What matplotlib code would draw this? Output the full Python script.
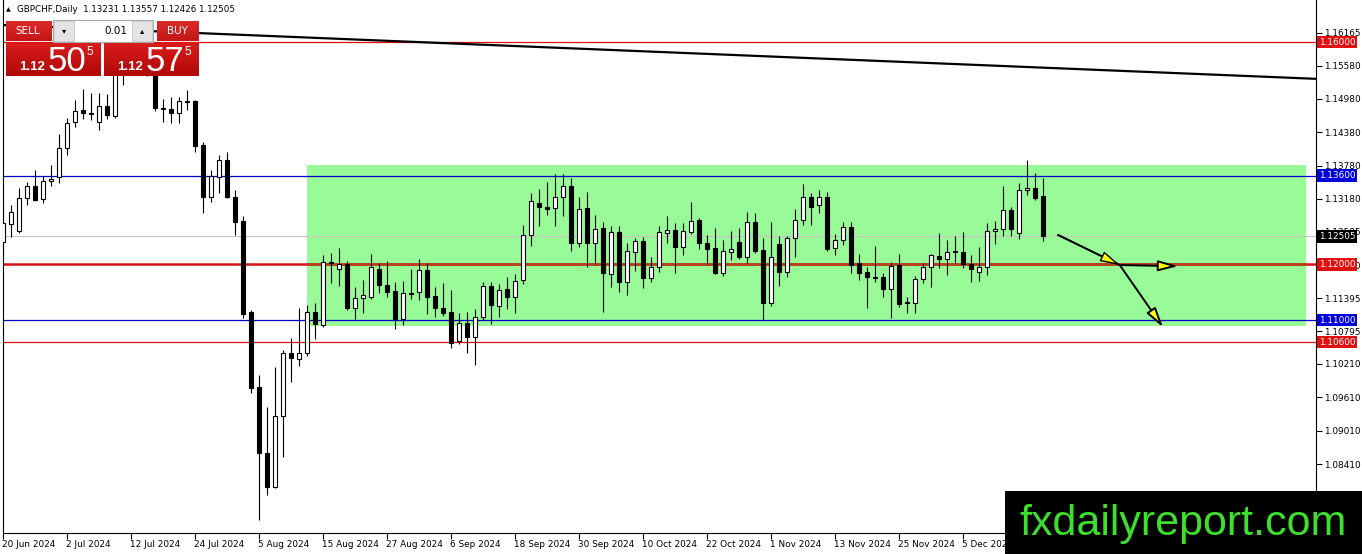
import matplotlib
matplotlib.use('Agg')
import matplotlib.pyplot as plt
import matplotlib.transforms as mtransforms
from matplotlib.patches import Rectangle
from matplotlib.colors import LinearSegmentedColormap
from matplotlib import font_manager
import numpy as np
import pandas as pd

# GBPCHF daily candles, 20 Jun 2024 .. 19 Dec 2024
opens = [1.1240, 1.1273, 1.1260, 1.1320, 1.1341, 1.1318, 1.1350, 1.1357, 1.1410, 1.1456,
         1.1478, 1.1473, 1.1456, 1.1485, 1.1467, 1.1546, 1.1575, 1.1590, 1.1572, 1.1550,
         1.1482, 1.1480, 1.1473, 1.1494, 1.1494, 1.1415, 1.1321, 1.1357, 1.1388, 1.1321,
         1.1278, 1.1114, 1.0979, 1.0861, 1.0799, 1.0927, 1.1041, 1.1030, 1.1041, 1.1114,
         1.1091, 1.1204, 1.1192, 1.1201, 1.1122, 1.1140, 1.1141, 1.1192, 1.1163, 1.1152,
         1.1102, 1.1149, 1.1150, 1.1190, 1.1143, 1.1122, 1.1114, 1.1062, 1.1095, 1.1069,
         1.1105, 1.1161, 1.1125, 1.1156, 1.1141, 1.1172, 1.1253, 1.1311, 1.1303, 1.1302,
         1.1321, 1.1341, 1.1239, 1.1302, 1.1239, 1.1266, 1.1183, 1.1258, 1.1168, 1.1222,
         1.1242, 1.1176, 1.1195, 1.1257, 1.1262, 1.1231, 1.1258, 1.1280, 1.1239, 1.1230,
         1.1185, 1.1222, 1.1240, 1.1213, 1.1276, 1.1226, 1.1131, 1.1237, 1.1186, 1.1248,
         1.1280, 1.1321, 1.1307, 1.1321, 1.1230, 1.1244, 1.1267, 1.1203, 1.1186, 1.1177,
         1.1177, 1.1156, 1.1199, 1.1132, 1.1131, 1.1174, 1.1195, 1.1215, 1.1210, 1.1224,
         1.1222, 1.1201, 1.1186, 1.1195, 1.1260, 1.1264, 1.1298, 1.1257, 1.1334, 1.1338,
         1.13231]
highs = [1.1312, 1.1307, 1.1338, 1.1348, 1.1370, 1.1359, 1.1379, 1.1435, 1.1464, 1.1496,
         1.1516, 1.1509, 1.1509, 1.1507, 1.1568, 1.1595, 1.1600, 1.1604, 1.1586, 1.1559,
         1.1498, 1.1501, 1.1501, 1.1514, 1.1496, 1.1420, 1.1370, 1.1397, 1.1402, 1.1334,
         1.1287, 1.1118, 1.1001, 1.0943, 1.1015, 1.1046, 1.1068, 1.1122, 1.1127, 1.1131,
         1.1217, 1.1221, 1.1230, 1.1206, 1.1159, 1.1172, 1.1219, 1.1203, 1.1206, 1.1168,
         1.1170, 1.1192, 1.1210, 1.1203, 1.1159, 1.1167, 1.1154, 1.1113, 1.1114, 1.1120,
         1.1168, 1.1168, 1.1165, 1.1177, 1.1183, 1.1271, 1.1329, 1.1336, 1.1348, 1.1363,
         1.1363, 1.1356, 1.1321, 1.1330, 1.1289, 1.1276, 1.1269, 1.1269, 1.1239, 1.1248,
         1.1249, 1.1213, 1.1269, 1.1287, 1.1275, 1.1275, 1.1312, 1.1284, 1.1253, 1.1266,
         1.1244, 1.1260, 1.1266, 1.1294, 1.1293, 1.1248, 1.1276, 1.1251, 1.1251, 1.1300,
         1.1345, 1.1329, 1.1334, 1.1330, 1.1255, 1.1276, 1.1276, 1.1219, 1.1195, 1.1233,
         1.1185, 1.1204, 1.1219, 1.1141, 1.1179, 1.1203, 1.1219, 1.1257, 1.1244, 1.1251,
         1.1258, 1.1217, 1.1231, 1.1275, 1.1278, 1.1341, 1.1303, 1.1347, 1.1388, 1.1365,
         1.13557]
lows = [1.1217, 1.1249, 1.1257, 1.1307, 1.1314, 1.1311, 1.1341, 1.1347, 1.1397, 1.1447,
        1.1462, 1.1460, 1.1442, 1.1462, 1.1464, 1.1523, 1.1557, 1.1564, 1.1539, 1.1476,
        1.1456, 1.1455, 1.1455, 1.1478, 1.1402, 1.1293, 1.1312, 1.1329, 1.1320, 1.1253,
        1.1104, 1.0969, 1.0740, 1.0785, 1.0798, 1.0853, 1.0988, 1.1017, 1.1035, 1.1066,
        1.1087, 1.1167, 1.1161, 1.1118, 1.1102, 1.1113, 1.1138, 1.1149, 1.1141, 1.1084,
        1.1091, 1.1138, 1.1136, 1.1111, 1.1105, 1.1107, 1.1050, 1.1057, 1.1041, 1.1019,
        1.1100, 1.1093, 1.1105, 1.1120, 1.1113, 1.1165, 1.1233, 1.1269, 1.1289, 1.1269,
        1.1287, 1.1224, 1.1231, 1.1195, 1.1201, 1.1114, 1.1159, 1.1150, 1.1145, 1.1188,
        1.1158, 1.1168, 1.1186, 1.1239, 1.1185, 1.1217, 1.1255, 1.1228, 1.1201, 1.1183,
        1.1179, 1.1208, 1.1210, 1.1203, 1.1221, 1.1100, 1.1125, 1.1161, 1.1177, 1.1213,
        1.1271, 1.1271, 1.1293, 1.1224, 1.1217, 1.1235, 1.1185, 1.1172, 1.1122, 1.1168,
        1.1141, 1.1104, 1.1123, 1.1113, 1.1113, 1.1167, 1.1159, 1.1194, 1.1181, 1.1203,
        1.1194, 1.1168, 1.1170, 1.1181, 1.1237, 1.1251, 1.1251, 1.1246, 1.1325, 1.1316,
        1.12426]
closes = [1.1275, 1.1294, 1.1320, 1.1341, 1.1316, 1.1350, 1.1354, 1.1410, 1.1455, 1.1476,
          1.1473, 1.1471, 1.1485, 1.1469, 1.1550, 1.1577, 1.1590, 1.1572, 1.1550, 1.1482,
          1.1480, 1.1473, 1.1494, 1.1492, 1.1413, 1.1321, 1.1359, 1.1388, 1.1321, 1.1276,
          1.1111, 1.0978, 1.0861, 1.0799, 1.0927, 1.1041, 1.1032, 1.1041, 1.1114, 1.1093,
          1.1204, 1.1203, 1.1201, 1.1122, 1.1140, 1.1145, 1.1195, 1.1163, 1.1150, 1.1102,
          1.1149, 1.1147, 1.1190, 1.1141, 1.1122, 1.1113, 1.1059, 1.1095, 1.1069, 1.1105,
          1.1161, 1.1127, 1.1154, 1.1141, 1.1170, 1.1253, 1.1314, 1.1303, 1.1300, 1.1321,
          1.1341, 1.1239, 1.1300, 1.1239, 1.1264, 1.1185, 1.1258, 1.1168, 1.1224, 1.1242,
          1.1176, 1.1195, 1.1258, 1.1262, 1.1231, 1.1260, 1.1278, 1.1239, 1.1228, 1.1185,
          1.1224, 1.1228, 1.1213, 1.1276, 1.1224, 1.1131, 1.1213, 1.1186, 1.1248, 1.1280,
          1.1321, 1.1303, 1.1321, 1.1228, 1.1244, 1.1267, 1.1199, 1.1185, 1.1177, 1.1176,
          1.1156, 1.1197, 1.1129, 1.1131, 1.1174, 1.1195, 1.1217, 1.1210, 1.1222, 1.1222,
          1.1201, 1.1192, 1.1195, 1.1260, 1.1264, 1.1298, 1.1264, 1.1334, 1.1338, 1.1320,
          1.12505]

date_labels = ['20 Jun 2024', '2 Jul 2024', '12 Jul 2024', '24 Jul 2024', '5 Aug 2024',
               '15 Aug 2024', '27 Aug 2024', '6 Sep 2024', '18 Sep 2024', '30 Sep 2024',
               '10 Oct 2024', '22 Oct 2024', '1 Nov 2024', '13 Nov 2024', '25 Nov 2024',
               '5 Dec 2024']
price_ticks = [1.16165, 1.15580, 1.14980, 1.14380, 1.13780, 1.13180, 1.12585, 1.11990,
               1.11395, 1.10795, 1.10210, 1.09610, 1.09010, 1.08410]

level_prices = [1.16000, 1.13600, 1.12000, 1.11000, 1.10600]
level_kinds = ['red', 'blue', 'red_thick', 'blue', 'red']
current_price = 1.12505

# range box, trendline and projected path (bar index, price)
box_bars = (38.0, 162.9)
box_prices = (1.1089, 1.1379)
trend_bars = (-0.4, 164.2)
trend_prices = (1.1631, 1.1534)
path_start = (131.9, 1.1253)
path_pivot = (139.6, 1.1199)
path_ends = [(146.9, 1.1197), (145.0, 1.1087)]

header = 'GBPCHF,Daily  1.13231 1.13557 1.12426 1.12505'

W, H = 1362, 554
fig = plt.figure(figsize=(W / 100, H / 100), dpi=100)
fig.patch.set_facecolor('white')

ax_l, ax_r, ax_t, ax_b = 2.5, 1316, 0, 533
ax = fig.add_axes([ax_l / W, (H - ax_b) / H, (ax_r - ax_l) / W, (ax_b - ax_t) / H])
ax.set_facecolor('white')
ax.set_xlim((ax_l - 3) / 8, (ax_r - 3) / 8)
ax.set_ylim(1.16165 - (ax_b - 33) / 5558, 1.16165 + 33 / 5558)

n = len(closes)
idx = np.arange(n)
dates = pd.bdate_range('2024-06-20', periods=n)

# range rectangle
ax.add_patch(Rectangle((box_bars[0], box_prices[0]), box_bars[1] - box_bars[0],
                       box_prices[1] - box_prices[0], facecolor='#98fb98',
                       edgecolor='none', zorder=0.5))

# horizontal levels
ax.axhline(current_price, color='#c4c4c4', lw=0.8, zorder=1)
for p, kind in zip(level_prices, level_kinds):
    if kind == 'blue':
        ax.axhline(p, color='#0000cc', lw=0.9, zorder=1.2)
    elif kind == 'red':
        ax.axhline(p, color='#e01010', lw=0.9, zorder=1.2)
    else:
        ax.axhline(p, color='#d41414', lw=1.8, zorder=1.2)
        ax.plot(box_bars, [p, p], color='#b8421a', lw=1.8, zorder=1.3,
                solid_capstyle='butt')

# trendline
ax.plot(trend_bars, trend_prices, color='black', lw=1.6, zorder=2)

# candles
o = np.array(opens)
c = np.array(closes)
ax.vlines(idx, lows, highs, color='black', lw=0.8, zorder=3)
bottoms = np.minimum(o, c)
heights = np.maximum(np.abs(c - o), 0.00004)
cols = ['black' if cc < oo else 'white' for oo, cc in zip(o, c)]
ax.bar(idx, heights, bottom=bottoms, width=0.62, color=cols, edgecolor='black',
       linewidth=0.8, zorder=4)

# projected path with yellow heads
ax.plot([path_start[0], path_pivot[0]], [path_start[1], path_pivot[1]],
        color='black', lw=1.4, zorder=5)
ax.annotate('', xy=path_pivot, xytext=path_start,
            arrowprops=dict(arrowstyle='-|>,head_length=1.2,head_width=0.32',
                            fc='#ffff00', ec='black', lw=1.0, shrinkA=0, shrinkB=0),
            zorder=6)
for end in path_ends:
    ax.annotate('', xy=end, xytext=path_pivot,
                arrowprops=dict(arrowstyle='-|>,head_length=1.2,head_width=0.32',
                                fc='#ffff00', ec='black', lw=1.4, shrinkA=0, shrinkB=0),
                zorder=6)

# axes styling
for s in ['left', 'right', 'bottom']:
    ax.spines[s].set_linewidth(0.8)
    ax.spines[s].set_color('black')
ax.spines['top'].set_visible(False)

ax.yaxis.tick_right()
ax.set_yticks(price_ticks)
ax.set_yticklabels([f'{v:.5f}' for v in price_ticks])
ax.tick_params(axis='y', length=4, width=0.8, pad=2, labelsize=6.4, colors='black')

label_pos = [dates.get_loc(pd.Timestamp(d)) for d in date_labels]
ax.set_xticks(label_pos)
ax.set_xticklabels(date_labels)
ax.tick_params(axis='x', length=4, width=0.8, pad=1, labelsize=6.4, colors='black')
shift = mtransforms.ScaledTranslation(-0.5 / 100, 0, fig.dpi_scale_trans)
for lab in ax.get_xticklabels():
    lab.set_horizontalalignment('left')
    lab.set_transform(lab.get_transform() + shift)

# price tags on the right scale
tag_colors = {'red': '#e01010', 'red_thick': '#e01010', 'blue': '#0000dd'}
ytag = mtransforms.blended_transform_factory(ax.transAxes, ax.transData)
tags = list(zip(level_prices, [tag_colors[k] for k in level_kinds])) + [(current_price, 'black')]
for p, col in tags:
    ax.text(1 + 3 / (ax_r - ax_l), p, f'{p:.5f}', transform=ytag, ha='left', va='center',
            fontsize=6.4, color='white', zorder=10, clip_on=False,
            bbox=dict(boxstyle='square,pad=0.18', fc=col, ec='none'))

# overlay in pixel coordinates: header, trade panel, watermark
ov = fig.add_axes([0, 0, 1, 1], zorder=5)
ov.set_facecolor('none')
ov.axis('off')


def grad_box(x0, y0, x1, y1, top, bottom):
    cmap = LinearSegmentedColormap.from_list('g', [top, bottom])
    ov.imshow(np.linspace(0, 1, 32).reshape(-1, 1), cmap=cmap, extent=(x0, x1, y1, y0),
              aspect='auto', interpolation='bilinear', zorder=2)


ov.text(6, 10, '\u25b2', fontsize=4.5, ha='left', va='center', color='black')
ov.text(17, 10, header, fontsize=6.3, ha='left', va='center', color='black')

grad_box(6, 21, 52, 41, '#dc2a2a', '#c41616')
grad_box(157, 21, 199, 41, '#dc2a2a', '#c41616')
grad_box(6, 43, 101, 76, '#d81c1c', '#b00808')
grad_box(104, 43, 199, 76, '#d81c1c', '#b00808')
ov.add_patch(Rectangle((53, 20), 100, 22, fc='white', ec='#a8a8a8', lw=0.8, zorder=2))
ov.add_patch(Rectangle((54, 21), 20, 20, fc='#e4e4e4', ec='#c8c8c8', lw=0.6, zorder=3))
ov.add_patch(Rectangle((132, 21), 20, 20, fc='#e4e4e4', ec='#c8c8c8', lw=0.6, zorder=3))
ov.text(64, 31, '\u25be', fontsize=6, ha='center', va='center', color='black', zorder=4)
ov.text(142, 31, '\u25b4', fontsize=6, ha='center', va='center', color='black', zorder=4)
ov.text(127, 31, '0.01', fontsize=7.5, ha='right', va='center', color='black', zorder=4)
ov.text(28, 31, 'SELL', fontsize=7.5, ha='center', va='center', color='white', zorder=4)
ov.text(177, 31, 'BUY', fontsize=7.5, ha='center', va='center', color='white', zorder=4)
for x0, big in [(19, '50'), (117, '57')]:
    ov.text(x0, 70, '1.12', fontsize=9.5, fontweight='bold', family='Liberation Sans',
            ha='left', va='baseline', color='white', zorder=4)
    ov.text(x0 + 29, 71, big, fontsize=25, family='Liberation Sans',
            ha='left', va='baseline', color='white', zorder=4)
    ov.text(x0 + 67, 46, '5', fontsize=8.5, family='Liberation Sans',
            ha='left', va='top', color='white', zorder=4)

ov.add_patch(Rectangle((1005, 491), W - 1005, H - 491, fc='black', ec='none', zorder=2))
names = {f.name for f in font_manager.fontManager.ttflist}
if 'Liberation Sans Narrow' in names:
    wm_family, wm_size = 'Liberation Sans Narrow', 37
else:
    wm_family, wm_size = 'Liberation Sans', 31
ov.text(1019, 535, 'fxdailyreport.com', fontsize=wm_size, family=wm_family,
        ha='left', va='baseline', color='#3ce02c', zorder=4)

ov.set_xlim(0, W)
ov.set_ylim(H, 0)

fig.savefig('out.png', dpi=100)
